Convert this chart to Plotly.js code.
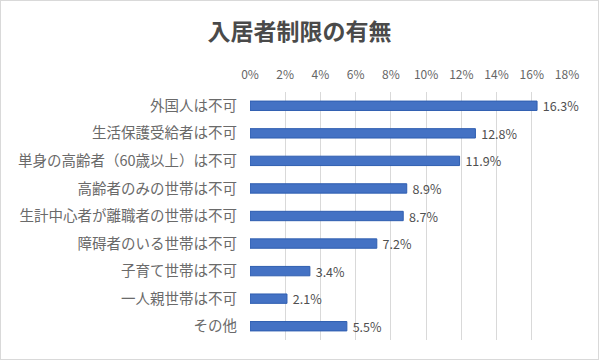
<!DOCTYPE html>
<html>
<head>
<meta charset="utf-8">
<script src="https://cdn.plot.ly/plotly-3.0.1.min.js"></script>
<style>
html,body{margin:0;padding:0;background:#fff;}
#wrap{width:597px;height:358px;border:1px solid #d9d9d9;}
#chart{width:597px;height:358px;}
</style>
</head>
<body>
<div id="wrap"><div id="chart"></div></div>
<script>
const categories = [
  "外国人は不可",
  "生活保護受給者は不可",
  "単身の高齢者（60歳以上）は不可",
  "高齢者のみの世帯は不可",
  "生計中心者が離職者の世帯は不可",
  "障碍者のいる世帯は不可",
  "子育て世帯は不可",
  "一人親世帯は不可",
  "その他"
];
const values = [0.163, 0.128, 0.119, 0.089, 0.087, 0.072, 0.034, 0.021, 0.055];
const tickValues = [0, 0.02, 0.04, 0.06, 0.08, 0.10, 0.12, 0.14, 0.16, 0.18];
const tickLabels = ["0%", "2%", "4%", "6%", "8%", "10%", "12%", "14%", "16%", "18%"];
const titleText = "入居者制限の有無";

const FONT = "Noto Sans CJK JP, Noto Sans, sans-serif";

const trace = {
  type: "bar",
  orientation: "h",
  y: categories,
  x: values,
  width: 0.34,
  marker: {color: "#4472C4", line: {color: "#2F5EB0", width: 1}},
  texttemplate: "\u00a0%{x:.1%}",
  textposition: "outside",
  constraintext: "none",
  textfont: {family: FONT, size: 12.5, color: "#505050"},
  cliponaxis: false,
  hoverinfo: "skip"
};

const layout = {
  width: 597,
  height: 358,
  margin: {l: 249, r: 31, t: 91, b: 19},
  paper_bgcolor: "#ffffff",
  plot_bgcolor: "#ffffff",
  showlegend: false,
  font: {family: FONT, color: "#595959", size: 12},
  title: {
    text: "<b>" + titleText + "</b>",
    font: {family: FONT, size: 23, color: "#4a4a4a"},
    xref: "container", x: 0.5, xanchor: "center",
    yref: "container", y: 0.913, yanchor: "middle"
  },
  xaxis: {
    side: "top",
    range: [0, 0.18],
    tickvals: tickValues,
    ticktext: tickLabels,
    showgrid: true,
    gridcolor: "#d9d9d9",
    gridwidth: 1,
    zeroline: false,
    showline: false,
    ticks: "",
    ticklabelstandoff: 10,
    tickfont: {family: FONT, size: 12, color: "#666666"},
    fixedrange: true
  },
  yaxis: {
    type: "category",
    autorange: "reversed",
    showgrid: false,
    zeroline: false,
    showline: false,
    ticks: "",
    ticklabelstandoff: 12,
    tickfont: {family: FONT, size: 14.5, color: "#6a6a6a"},
    fixedrange: true
  }
};

Plotly.newPlot("chart", [trace], layout, {displayModeBar: false, staticPlot: true});
</script>
</body>
</html>
